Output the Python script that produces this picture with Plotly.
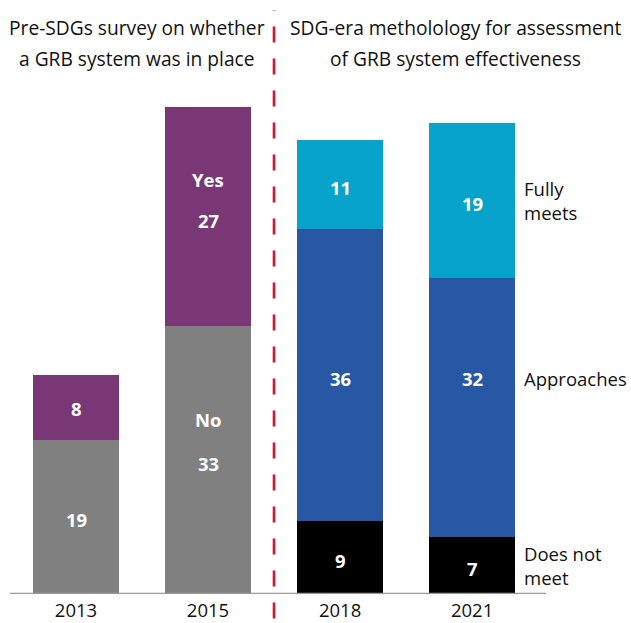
import plotly.graph_objects as go

# ---- data ----
years = ["2013", "2015", "2018", "2021"]
pre_no = [19, 33, None, None]
pre_yes = [8, 27, None, None]
does_not_meet = [None, None, 9, 7]
approaches = [None, None, 36, 32]
fully_meets = [None, None, 11, 19]

title_left = ["Pre-SDGs survey on whether", "a GRB system was in place"]
title_right = ["SDG-era metholology for assessment", "of GRB system effectiveness"]
right_labels = ["Fully<br>meets", "Approaches", "Does not<br>meet"]

C_GRAY = "#808080"
C_PURPLE = "#7A3775"
C_BLACK = "#000000"
C_BLUE = "#2857A4"
C_CYAN = "#07A3CA"
FONT = "Open Sans"

fig = go.Figure()
W = 0.65
for vals, col in [(pre_no, C_GRAY), (pre_yes, C_PURPLE),
                  (does_not_meet, C_BLACK), (approaches, C_BLUE), (fully_meets, C_CYAN)]:
    fig.add_trace(go.Bar(x=years, y=vals, marker=dict(color=col, line=dict(width=0)),
                         width=W, hoverinfo="skip", showlegend=False))

ann = []
def lab(i, y, t, yshift=0, size=18.5):
    ann.append(dict(x=i, y=y, text=f"<b>{t}</b>", showarrow=False, xref="x", yref="y",
                    yshift=yshift, font=dict(color="white", size=size, family=FONT)))

# pre-SDG bars
for i in range(2):
    n, y_ = pre_no[i], pre_yes[i]
    mid_no = n / 2
    mid_yes = n + y_ / 2
    if i == 0:
        lab(i, mid_no, n, yshift=-3)
        lab(i, mid_yes, y_, yshift=-1)
    else:
        lab(i, mid_no, n, yshift=-3)
        lab(i, mid_no, "No", yshift=41)
        lab(i, mid_yes, y_, yshift=-4)
        lab(i, mid_yes, "Yes", yshift=37)

# SDG-era bars
approach_mid = does_not_meet[2] + approaches[2] / 2
for i in range(2, 4):
    d, a, f = does_not_meet[i], approaches[i], fully_meets[i]
    lab(i, d / 2, d, yshift=-3)
    lab(i, approach_mid, a, yshift=-4)
    lab(i, d + a + f / 2, f, yshift=-3)

# right side labels
RF = dict(size=18.5, color="#111", family=FONT)
ann.append(dict(x=3.38, y=does_not_meet[3] + approaches[3] + fully_meets[3] / 2, text=right_labels[0],
                xanchor="left", showarrow=False, align="left", yshift=0, font=RF))
ann.append(dict(x=3.38, y=approach_mid, text=right_labels[1], xanchor="left", showarrow=False,
                align="left", yshift=-4, font=RF))
ann.append(dict(x=3.38, y=does_not_meet[3] / 2, text=right_labels[2], xanchor="left", showarrow=False,
                align="left", yshift=0, font=RF))

# titles (one annotation per line to match the wide line spacing)
TF = dict(size=19.2, color="#111", family=FONT)
for xc, lines in [(0.462, title_left), (2.871, title_right)]:
    for k, line in enumerate(lines):
        ann.append(dict(x=xc, y=1.0, xref="x", yref="paper", text=line, showarrow=False,
                        xanchor="center", yanchor="middle", yshift=-1 - 31 * k, font=TF))

fig.update_layout(
    width=631, height=623,
    margin=dict(l=10, r=85, t=26, b=29, autoexpand=False),
    barmode="stack",
    plot_bgcolor="white", paper_bgcolor="white",
    annotations=ann,
    xaxis=dict(type="category", range=[-0.5, 3.56], showgrid=False, zeroline=False, automargin=False,
               showline=False, ticks="", tickfont=dict(size=18.5, color="#111", family=FONT)),
    yaxis=dict(range=[0, 70], visible=False, showgrid=False, zeroline=False, automargin=False),
    shapes=[
        dict(type="line", xref="x", yref="y", x0=-0.5, x1=3.56, y0=0, y1=0,
             line=dict(color="#9a9a9a", width=2.5), layer="above"),
        dict(type="line", xref="x", yref="paper", x0=1.5, x1=1.5, y0=-0.043, y1=1.028,
             line=dict(color="#C41E3A", width=2.7, dash="16px,16px"), layer="above"),
    ],
)
fig.update_xaxes(ticklabelstandoff=3)
fig.write_html("out.html", config={"displayModeBar": False},
               post_script="document.body.style.margin='0';document.body.style.padding='0';")
